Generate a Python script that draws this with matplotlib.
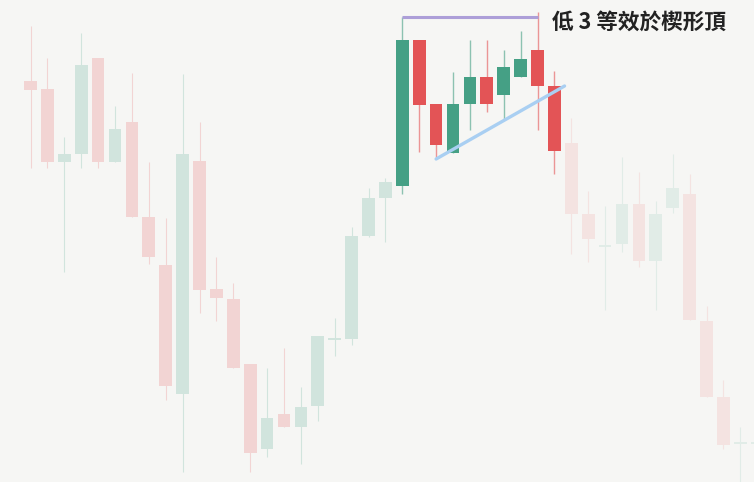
import numpy as np
import matplotlib
matplotlib.use("Agg")
import matplotlib.pyplot as plt
from matplotlib.colors import to_rgb

# OHLC (price units)
opens  = [419, 411, 338, 346, 442, 338, 378, 283, 235, 106, 339, 211, 201, 136, 51,
          86, 73, 94, 160, 161, 264, 302, 314, 460, 396, 347, 396, 423, 405, 423,
          450, 414, 357, 286, 253, 256, 296, 239, 292, 306, 179, 103, 56, 56]
highs  = [474, 442, 363, 467, 442, 394, 427, 338, 282, 426, 378, 243, 217, 136, 132,
          152, 113, 164, 182, 273, 312, 322, 483, 460, 396, 428, 460, 460, 450, 469,
          488, 429, 382, 309, 294, 343, 328, 299, 346, 326, 194, 120, 73, 72]
lows   = [332, 332, 228, 332, 332, 338, 283, 236, 100, 28, 187, 179, 132, 28, 43,
          73, 36, 79, 144, 155, 263, 258, 306, 348, 343, 347, 370, 388, 381, 423,
          370, 326, 246, 238, 190, 248, 233, 190, 287, 180, 103, 51, 10, 30]
closes = [410, 338, 346, 435, 338, 371, 283, 243, 114, 346, 210, 202, 132, 47, 82,
          73, 93, 164, 161, 264, 302, 318, 460, 395, 355, 396, 423, 396, 433, 441,
          414, 349, 286, 261, 254, 296, 239, 286, 312, 180, 103, 55, 57, 57]

# candles 23..32 form the pattern (0-based 22..31)
pattern_start, pattern_end = 22, 31
top_from, top_to = 22, 30          # horizontal line over the highs
trend_x = [24, 31.6]               # rising support line
trend_y = [341, 414]
label = "低 3 等效於楔形頂"

bg = "#f6f6f4"
green = "#45a085"
red = "#e35456"


def fade(c, a):
    c = np.array(to_rgb(c))
    b = np.array(to_rgb(bg))
    return tuple(b + (c - b) * a)


fig = plt.figure(figsize=(7.54, 4.82), dpi=100, facecolor=bg)
ax = fig.add_axes([0, 0, 1, 1])
ax.set_facecolor(bg)
ax.axis("off")

n = len(opens)
x = np.arange(n)
w = 0.75
for i in range(n):
    up = closes[i] >= opens[i]
    base = green if up else red
    if pattern_start <= i <= pattern_end:
        col, wick, lw = base, fade(base, 0.6), 1.0
    elif i < pattern_start:
        col = fade(base, 0.21)
        wick, lw = col, 0.8
    else:
        col = fade(base, 0.12)
        wick, lw = col, 0.8
    ax.vlines(x[i], lows[i], highs[i], color=wick, lw=lw, zorder=2)
    lo = min(opens[i], closes[i])
    h = max(abs(closes[i] - opens[i]), 1.6)
    ax.bar(x[i], h, bottom=lo, width=w, color=col, edgecolor="none", zorder=3)

# resistance line over the pattern
ax.hlines(highs[top_from], x[top_from], x[top_to], color="#ad9fd8", lw=2.2, zorder=4)
# trend line
ax.plot(trend_x, trend_y, color="#a9cff2", lw=2.4, solid_capstyle="round", zorder=4)

ax.set_xlim(-1.805, 42.81)
ax.set_ylim(18, 500)

fig.text(552.5 / 754, 1 - 22 / 482, label, ha="left", va="center", fontsize=15.6,
         fontweight="bold", color="#222222",
         family=["Noto Sans CJK TC", "DejaVu Sans"])

fig.savefig("out.png", dpi=100, facecolor=bg)
